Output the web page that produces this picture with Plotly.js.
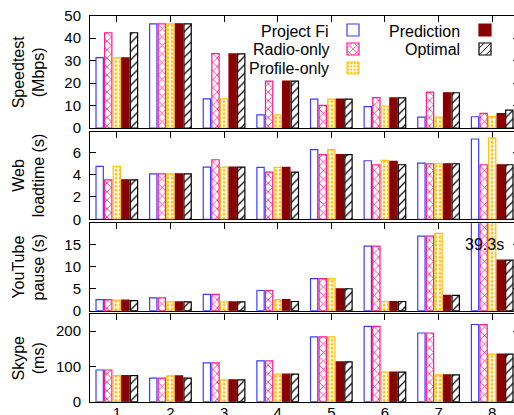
<!DOCTYPE html>
<html><head><meta charset="utf-8">
<script src="https://cdn.plot.ly/plotly-3.0.1.min.js"></script>
<style>html,body{margin:0;padding:0;overflow:hidden;background:#fff}#chart{width:540px;height:415px}</style>
</head><body><div id="chart"></div>
<script>
// ---- data ----
const groups = [1, 2, 3, 4, 5, 6, 7, 8];
const tickLabels = ['1', '2', '3', '4', '5', '6', '7', '8'];
const seriesNames = ['Project Fi', 'Radio-only', 'Profile-only', 'Prediction', 'Optimal'];
const panelTitles = ['Speedtest<br>(Mbps)', 'Web<br>loadtime (s)', 'YouTube<br>pause (s)', 'Skype<br>(ms)'];

const speedFi      = [31.3, 46.4, 13.0, 5.8, 12.9, 9.5, 4.8, 5.0];
const speedRadio   = [42.4, 46.4, 33.1, 20.9, 10.1, 13.5, 16.0, 6.5];
const speedProfile = [31.2, 46.4, 13.0, 5.8, 12.9, 9.8, 4.8, 5.2];
const speedPred    = [31.2, 46.4, 33.0, 20.9, 12.9, 13.4, 15.7, 6.4];
const speedOpt     = [42.4, 46.4, 33.0, 20.9, 12.9, 13.4, 15.7, 8.0];

const webFi      = [4.74, 4.08, 4.68, 4.65, 6.24, 5.25, 5.04, 7.2];
const webRadio   = [3.54, 4.08, 5.34, 4.23, 5.79, 4.89, 4.98, 4.89];
const webProfile = [4.74, 4.08, 4.68, 4.65, 6.24, 5.28, 4.98, 7.3];
const webPred    = [3.54, 4.08, 4.68, 4.65, 5.79, 5.19, 4.98, 4.89];
const webOpt     = [3.54, 4.08, 4.68, 4.23, 5.79, 4.89, 4.98, 4.89];

const ytFi      = [2.5, 2.9, 3.7, 4.6, 7.3, 14.7, 17.0, 39.3];
const ytRadio   = [2.5, 2.9, 3.7, 4.6, 7.3, 14.7, 17.0, 39.3];
const ytProfile = [2.4, 2.0, 2.0, 2.5, 7.3, 2.1, 17.6, 39.3];
const ytPred    = [2.4, 2.0, 2.0, 2.5, 5.0, 2.1, 3.5, 11.5];
const ytOpt     = [2.3, 2.0, 2.0, 2.1, 5.0, 2.1, 3.5, 11.5];

const skypeFi      = [90, 67, 110, 116, 184, 214, 195, 219];
const skypeRadio   = [90, 67, 110, 116, 184, 214, 195, 219];
const skypeProfile = [74, 73, 62, 78, 184, 84, 76, 135];
const skypePred    = [74, 73, 62, 78, 113, 84, 76, 135];
const skypeOpt     = [74, 67, 62, 78, 113, 84, 76, 135];

const youtubeNote = '39.3s';

// ---- styles ----
const styles = [
  {color: '#ffffff', line: '#3c3cff', pattern: {shape: ''}},
  {color: '#ffffff', line: '#ff1a8c', pattern: {shape: 'x', fgcolor: '#ff1a8c', bgcolor: '#ffffff', size: 6, solidity: 0.25}},
  {color: '#ffffff', line: '#ffc20e', pattern: {shape: '.', fgcolor: '#ffc20e', bgcolor: '#ffffff', size: 4, solidity: 0.4}},
  {color: '#880000', line: '#880000', pattern: {shape: ''}},
  {color: '#ffffff', line: '#000000', pattern: {shape: '/', fgcolor: '#000000', bgcolor: '#ffffff', size: 6, solidity: 0.2}}
];

const panels = [
  [speedFi, speedRadio, speedProfile, speedPred, speedOpt],
  [webFi, webRadio, webProfile, webPred, webOpt],
  [ytFi, ytRadio, ytProfile, ytPred, ytOpt],
  [skypeFi, skypeRadio, skypeProfile, skypePred, skypeOpt]
];

const traces = [];
panels.forEach((series, p) => {
  series.forEach((vals, s) => {
    const st = styles[s];
    traces.push({
      type: 'bar',
      x: groups,
      y: vals,
      name: '\u00a0',
      legend: s < 3 ? 'legend' : 'legend2',
      showlegend: p === 0,
      xaxis: p === 0 ? 'x' : 'x' + (p + 1),
      yaxis: p === 0 ? 'y' : 'y' + (p + 1),
      marker: {color: st.color, line: {color: st.line, width: 1.2}, pattern: st.pattern},
      hoverinfo: 'x+y'
    });
  });
});

const W = 540, H = 415;
const px = (v) => v / W;
const py = (v) => 1 - v / H;

const panelPx = [[15.7, 128], [132.3, 219.3], [223.3, 310.7], [314.3, 401.7]];
const yRanges = [[0, 50], [0, 7.8], [0, 19.9], [0, 248]];
const yDticks = [10, 2, 5, 100];

const font = {family: 'Liberation Sans, Arial, sans-serif', size: 15, color: '#000'};
const layout = {
  width: W, height: H,
  margin: {l: 0, r: 0, t: 0, b: 0},
  paper_bgcolor: '#fff', plot_bgcolor: '#fff',
  font: font,
  barmode: 'group', bargap: 0.2, bargroupgap: 0.15,
  legend: {x: px(333), y: py(15.5), xanchor: 'left', yanchor: 'top', bgcolor: 'rgba(0,0,0,0)', font: {size: 12}, tracegroupgap: 0},
  legend2: {x: px(465), y: py(15.5), xanchor: 'left', yanchor: 'top', bgcolor: 'rgba(0,0,0,0)', font: {size: 12}, tracegroupgap: 0},
  annotations: [],
  showlegend: true
};

for (let p = 0; p < 4; p++) {
  const xa = p === 0 ? 'xaxis' : 'xaxis' + (p + 1);
  const ya = p === 0 ? 'yaxis' : 'yaxis' + (p + 1);
  const yid = p === 0 ? 'y' : 'y' + (p + 1);
  const xid = p === 0 ? 'x' : 'x' + (p + 1);
  layout[xa] = {
    domain: [px(90), px(519)], anchor: yid, range: [0.5, 8.5],
    tickmode: 'array', tickvals: groups, ticktext: tickLabels,
    showticklabels: p === 3, ticks: 'inside', ticklen: 6, tickcolor: '#000', tickwidth: 1,
    showline: true, linecolor: '#000', linewidth: 1, mirror: 'ticks',
    showgrid: false, zeroline: false, fixedrange: true, layer: 'below traces',
    ticklabelstandoff: -3,
    tickfont: {size: 15}
  };
  layout[ya] = {
    domain: [py(panelPx[p][1]), py(panelPx[p][0])], anchor: xid, range: yRanges[p],
    dtick: yDticks[p], tick0: 0, ticks: 'inside', ticklen: 6, tickcolor: '#000',
    showline: true, linecolor: '#000', linewidth: 1, mirror: 'ticks',
    showgrid: false, zeroline: false, fixedrange: true, ticklabelstandoff: 5,
    tickfont: {size: 15}
  };
  layout.annotations.push({
    xref: 'paper', yref: 'paper', x: px(28.5), y: py((panelPx[p][0] + panelPx[p][1]) / 2),
    text: panelTitles[p], textangle: -90, showarrow: false, xanchor: 'center', yanchor: 'middle',
    font: {size: 16}
  });
}

// legend texts (right-aligned, left of swatch)
const legendRows = [31.7, 50, 68.3];
[0, 1, 2].forEach(i => layout.annotations.push({
  xref: 'paper', yref: 'paper', x: px(331), y: py(legendRows[i]), xanchor: 'right', yanchor: 'middle',
  text: seriesNames[i], showarrow: false, font: {size: 16}
}));
[3, 4].forEach((s, i) => layout.annotations.push({
  xref: 'paper', yref: 'paper', x: px(462), y: py(legendRows[i]), xanchor: 'right', yanchor: 'middle',
  text: seriesNames[s], showarrow: false, font: {size: 16}
}));

layout.annotations.push({
  xref: 'x3', yref: 'y3', x: 7.85, y: 15, text: youtubeNote, showarrow: false,
  xanchor: 'center', yanchor: 'middle', font: {size: 16}
});

Plotly.newPlot('chart', traces, layout, {displayModeBar: false, staticPlot: true});
</script>
</body></html>
